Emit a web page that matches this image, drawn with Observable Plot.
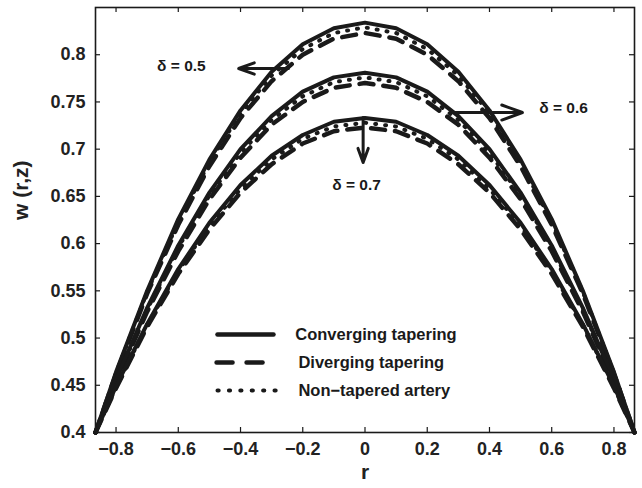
<!DOCTYPE html>
<html>
<head>
<meta charset="utf-8">
<script src="https://cdn.jsdelivr.net/npm/d3@7"></script>
<script src="https://cdn.jsdelivr.net/npm/@observablehq/plot@0.6"></script>
<style>
  html, body { margin: 0; padding: 0; background: #fff; }
  #chart { width: 642px; height: 488px; }
</style>
</head>
<body>
<div id="chart"></div>
<script>
// radial coordinate samples
const rValues = [-0.866, -0.8, -0.7, -0.6, -0.5, -0.4, -0.3, -0.2, -0.1, 0, 0.1, 0.2, 0.3, 0.4, 0.5, 0.6, 0.7, 0.8, 0.866];

// delta = 0.5
const converging05 = [0.4, 0.464, 0.550, 0.626, 0.689, 0.741, 0.782, 0.811, 0.828, 0.834, 0.828, 0.811, 0.782, 0.741, 0.689, 0.626, 0.550, 0.464, 0.4];
const diverging05  = [0.4, 0.462, 0.547, 0.620, 0.682, 0.733, 0.772, 0.800, 0.817, 0.823, 0.817, 0.800, 0.772, 0.733, 0.682, 0.620, 0.547, 0.462, 0.4];
const nonTapered05 = [0.4, 0.463, 0.549, 0.623, 0.686, 0.738, 0.778, 0.806, 0.823, 0.829, 0.823, 0.806, 0.778, 0.738, 0.686, 0.623, 0.549, 0.463, 0.4];
// delta = 0.6
const converging06 = [0.4, 0.456, 0.532, 0.598, 0.654, 0.700, 0.735, 0.761, 0.776, 0.781, 0.776, 0.761, 0.735, 0.700, 0.654, 0.598, 0.532, 0.456, 0.4];
const diverging06  = [0.4, 0.454, 0.528, 0.592, 0.647, 0.691, 0.726, 0.750, 0.765, 0.770, 0.765, 0.750, 0.726, 0.691, 0.647, 0.592, 0.528, 0.454, 0.4];
const nonTapered06 = [0.4, 0.455, 0.530, 0.596, 0.651, 0.696, 0.731, 0.756, 0.771, 0.776, 0.771, 0.756, 0.731, 0.696, 0.651, 0.596, 0.530, 0.455, 0.4];
// delta = 0.7
const converging07 = [0.4, 0.449, 0.515, 0.573, 0.622, 0.662, 0.693, 0.715, 0.729, 0.733, 0.729, 0.715, 0.693, 0.662, 0.622, 0.573, 0.515, 0.449, 0.4];
const diverging07  = [0.4, 0.447, 0.512, 0.568, 0.615, 0.654, 0.684, 0.706, 0.719, 0.723, 0.719, 0.706, 0.684, 0.654, 0.615, 0.568, 0.512, 0.447, 0.4];
const nonTapered07 = [0.4, 0.448, 0.514, 0.571, 0.619, 0.658, 0.689, 0.711, 0.724, 0.728, 0.724, 0.711, 0.689, 0.658, 0.619, 0.571, 0.514, 0.448, 0.4];

const xTicks = [-0.8, -0.6, -0.4, -0.2, 0, 0.2, 0.4, 0.6, 0.8];
const yTicks = [0.4, 0.45, 0.5, 0.55, 0.6, 0.65, 0.7, 0.75, 0.8];

const legendLabels = ["Converging tapering", "Diverging tapering", "Non\u2212tapered artery"];
const deltaLabels = ["\u03b4 = 0.5", "\u03b4 = 0.6", "\u03b4 = 0.7"];

const seriesDefs = [
  {type: "diverging", delta: 0.5, values: diverging05},
  {type: "diverging", delta: 0.6, values: diverging06},
  {type: "diverging", delta: 0.7, values: diverging07},
  {type: "nontapered", delta: 0.5, values: nonTapered05},
  {type: "nontapered", delta: 0.6, values: nonTapered06},
  {type: "nontapered", delta: 0.7, values: nonTapered07},
  {type: "converging", delta: 0.5, values: converging05},
  {type: "converging", delta: 0.6, values: converging06},
  {type: "converging", delta: 0.7, values: converging07}
];
const rows = seriesDefs.flatMap(s => s.values.map((w, i) => ({r: rValues[i], w, delta: s.delta, type: s.type})));

const W = 642, H = 488, mL = 95, mR = 8, mT = 7, mB = 56;
const innerH = H - mT - mB, innerW = W - mL - mR;
const fmt = d => (d < 0 ? "\u2212" : "") + String(Math.abs(+d.toFixed(2)));
const ink = "#1a1a1a";

const styles = {
  converging: {strokeWidth: 4},
  diverging: {strokeWidth: 4.5, strokeDasharray: "14,10"},
  nontapered: {strokeWidth: 4, strokeDasharray: "1,9"}
};

// legend / annotation helper positions (layout, in data units)
const lx1 = -0.474, lx2 = -0.294, ltx = -0.214;
const ly = [0.5038, 0.4741, 0.4445];

const marks = [
  ...["diverging", "nontapered", "converging"].map(t =>
    Plot.line(rows.filter(d => d.type === t), {x: "r", y: "w", z: "delta", stroke: ink, strokeLinejoin: "miter", ...styles[t]})
  ),
  // legend samples
  Plot.line([[lx1, ly[0]], [lx2, ly[0]]], {x: d => d[0], y: d => d[1], stroke: ink, strokeWidth: 4.5}),
  Plot.line([[lx1 - 0.003, ly[1]], [lx2 - 0.035, ly[1]]], {x: d => d[0], y: d => d[1], stroke: ink, strokeWidth: 4.5, strokeDasharray: "16,14"}),
  Plot.line([[lx1, ly[2]], [lx2 + 0.01, ly[2]]], {x: d => d[0], y: d => d[1], stroke: ink, strokeWidth: 4, strokeDasharray: "1.2,10.2"}),
  Plot.text(legendLabels, {x: (d, i) => i === 0 ? ltx - 0.01 : ltx, y: (d, i) => ly[i], text: d => d, textAnchor: "start", fontSize: 16.5, fontWeight: "bold", fill: ink}),
  // delta annotations
  Plot.arrow([{x1: -0.246, y1: 0.7854, x2: -0.406, y2: 0.7854}, {x1: 0.275, y1: 0.7388, x2: 0.506, y2: 0.7388}, {x1: -0.006, y1: 0.7335, x2: -0.006, y2: 0.6859}],
    {x1: "x1", y1: "y1", x2: "x2", y2: "y2", stroke: ink, strokeWidth: 3, headLength: 11, headAngle: 40}),
  Plot.text(deltaLabels, {x: (d, i) => [-0.59, 0.638, -0.027][i], y: (d, i) => [0.7875, 0.7431, 0.6615][i], text: d => d, fontSize: 15.5, fontWeight: "bold", fill: ink}),
  // inward ticks on all four sides
  Plot.tickX(xTicks, {x: d => d, insetTop: innerH - 5, stroke: ink, strokeWidth: 1.2}),
  Plot.tickX(xTicks, {x: d => d, insetBottom: innerH - 5, stroke: ink, strokeWidth: 1.2}),
  Plot.tickY(yTicks, {y: d => d, insetRight: innerW - 5, stroke: ink, strokeWidth: 1.2}),
  Plot.tickY(yTicks, {y: d => d, insetLeft: innerW - 5, stroke: ink, strokeWidth: 1.2}),
  Plot.axisX(xTicks, {tickSize: 0, tickPadding: 10, tickFormat: fmt, label: null, fontSize: 18, fontWeight: "bold", fill: "#222"}),
  Plot.axisY(yTicks, {tickSize: 0, tickPadding: 10, tickFormat: fmt, label: null, fontSize: 18, fontWeight: "bold", fill: "#222"}),
  Plot.text(["r"], {frameAnchor: "bottom", dy: 46, text: d => d, fontSize: 21, fontWeight: "bold", fill: "#222"}),
  Plot.text(["w (r,z)"], {frameAnchor: "left", dx: -74, rotate: -90, text: d => d, fontSize: 21, fontWeight: "bold", fill: "#222"}),
  Plot.frame({stroke: ink, strokeWidth: 1.6})
];

const chart = Plot.plot({
  width: W,
  height: H,
  marginLeft: mL,
  marginRight: mR,
  marginTop: mT,
  marginBottom: mB,
  x: {domain: [-0.866, 0.866]},
  y: {domain: [0.4, 0.85]},
  style: {fontFamily: "'Liberation Sans', Arial, sans-serif", background: "#fff", color: ink},
  marks
});
document.getElementById("chart").appendChild(chart);
</script>
</body>
</html>
